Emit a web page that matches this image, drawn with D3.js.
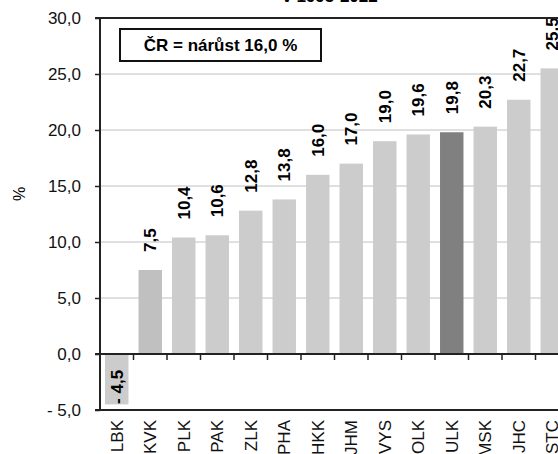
<!DOCTYPE html>
<html>
<head>
<meta charset="utf-8">
<script src="https://cdn.jsdelivr.net/npm/d3@7"></script>
<style>
body { margin: 0; background: #fff; }
text { font-family: "Liberation Sans", Arial, sans-serif; }
</style>
</head>
<body>
<svg id="chart" width="558" height="454"></svg>
<script>
let categories = ["LBK", "KVK", "PLK", "PAK", "ZLK", "PHA", "HKK", "JHM", "VYS", "OLK", "ULK", "MSK", "JHC", "STC"];
let values = [-4.5, 7.5, 10.4, 10.6, 12.8, 13.8, 16.0, 17.0, 19.0, 19.6, 19.8, 20.3, 22.7, 25.5];
let colors = ["#cccccc", "#c0c0c0", "#cccccc", "#cccccc", "#cccccc", "#cccccc", "#cccccc", "#cccccc", "#cccccc", "#cccccc", "#808080", "#cccccc", "#cccccc", "#cccccc"];
let yTicks = [-5, 0, 5, 10, 15, 20, 25, 30];
let titleText = "v 1995-2022";
let boxText = "ČR = nárůst 16,0 %";

let plotLeft = 100, plotTop = 18, plotBottom = 410;
let bandW = 33.5;
let plotRight = plotLeft + bandW*categories.length;
let fs = "17px";

let svg = d3.select("#chart");

let x = d3.scaleBand()
	.domain(categories)
	.range([plotLeft, plotRight])
	.paddingInner(0.3)
	.paddingOuter(0.15);

let y = d3.scaleLinear()
	.domain([-5, 30])
	.range([plotBottom, plotTop]);

let fmt = function(d) {
	let s = Math.abs(d).toFixed(1).replace(".", ",");
	return d < 0 ? "- " + s : s;
};

// gridlines
svg.append("g")
	.selectAll("line")
	.data(yTicks.filter(function(d) { return d > 0 && d < 30; }))
	.enter().append("line")
	.attr("x1", plotLeft)
	.attr("x2", plotRight)
	.attr("y1", function(d) { return y(d); })
	.attr("y2", function(d) { return y(d); })
	.attr("stroke", "#c0c0c0")
	.attr("stroke-width", 1);

// bars
svg.append("g")
	.selectAll("rect")
	.data(values)
	.enter().append("rect")
	.attr("x", function(d, i) { return x(categories[i]); })
	.attr("width", x.bandwidth())
	.attr("y", function(d) { return y(Math.max(d, 0)); })
	.attr("height", function(d) { return Math.abs(y(d) - y(0)); })
	.attr("fill", function(d, i) { return colors[i]; });

// value labels
svg.append("g")
	.selectAll("text")
	.data(values)
	.enter().append("text")
	.attr("transform", function(d, i) {
		let cx = x(categories[i]) + x.bandwidth()/2;
		let cy = d < 0 ? y(d) - 0.5 : y(d) - 18;
		return "translate(" + cx + "," + cy + ") rotate(-90)";
	})
	.attr("dy", "0.35em")
	.style("font-size", fs)
	.style("font-weight", "bold")
	.style("text-anchor", "start")
	.text(function(d) { return fmt(d); });

// y axis
let yAxis = svg.append("g")
	.attr("transform", "translate(" + plotLeft + ",0)")
	.call(d3.axisLeft(y).tickValues(yTicks).tickSize(5).tickPadding(14).tickFormat(fmt));
yAxis.select(".domain").remove();
yAxis.selectAll("line").attr("stroke", "#222").attr("stroke-width", 1.5);
yAxis.selectAll("text").style("font-size", fs).style("font-family", "Liberation Sans, Arial, sans-serif").attr("fill", "#111");

// frame lines
svg.append("line").attr("x1", plotLeft).attr("x2", plotLeft).attr("y1", plotTop).attr("y2", plotBottom)
	.attr("stroke", "#222").attr("stroke-width", 2);
svg.append("line").attr("x1", plotLeft - 5).attr("x2", plotRight).attr("y1", plotTop).attr("y2", plotTop)
	.attr("stroke", "#222").attr("stroke-width", 2);
svg.append("line").attr("x1", plotLeft - 5).attr("x2", plotRight).attr("y1", plotBottom).attr("y2", plotBottom)
	.attr("stroke", "#222").attr("stroke-width", 2);

// zero line with category ticks
let xAxis = svg.append("g")
	.attr("transform", "translate(0," + y(0) + ")");
xAxis.append("line").attr("x1", plotLeft - 5).attr("x2", plotRight).attr("y1", 0).attr("y2", 0)
	.attr("stroke", "#222").attr("stroke-width", 2);
xAxis.selectAll(".tk")
	.data(categories.slice(1))
	.enter().append("line")
	.attr("class", "tk")
	.attr("x1", function(d) { return x(d) - x.step()*x.paddingInner()/2; })
	.attr("x2", function(d) { return x(d) - x.step()*x.paddingInner()/2; })
	.attr("y1", 0)
	.attr("y2", 6)
	.attr("stroke", "#222")
	.attr("stroke-width", 1.5);

// category labels
svg.append("g")
	.selectAll("text")
	.data(categories)
	.enter().append("text")
	.attr("transform", function(d) {
		return "translate(" + (x(d) + x.bandwidth()/2) + "," + (plotBottom + 10) + ") rotate(-90)";
	})
	.attr("dy", "0.35em")
	.style("font-size", fs)
	.style("text-anchor", "end")
	.attr("fill", "#111")
	.text(function(d) { return d; });

// y-axis label
svg.append("text")
	.attr("transform", "translate(19,194) rotate(-90)")
	.attr("dy", "0.35em")
	.style("font-size", "16px")
	.style("text-anchor", "middle")
	.text("%");

// title (cut off at top)
svg.append("text")
	.attr("x", 330)
	.attr("y", 2)
	.style("font-size", fs)
	.style("font-weight", "bold")
	.style("text-anchor", "middle")
	.text(titleText);

// CR box
svg.append("rect")
	.attr("x", 120).attr("y", 29).attr("width", 201).attr("height", 32)
	.attr("fill", "#fff").attr("stroke", "#111").attr("stroke-width", 2);
svg.append("text")
	.attr("x", 220.5)
	.attr("y", 45)
	.attr("dy", "0.35em")
	.style("font-size", fs)
	.style("font-weight", "bold")
	.style("text-anchor", "middle")
	.text(boxText);
</script>
</body>
</html>
